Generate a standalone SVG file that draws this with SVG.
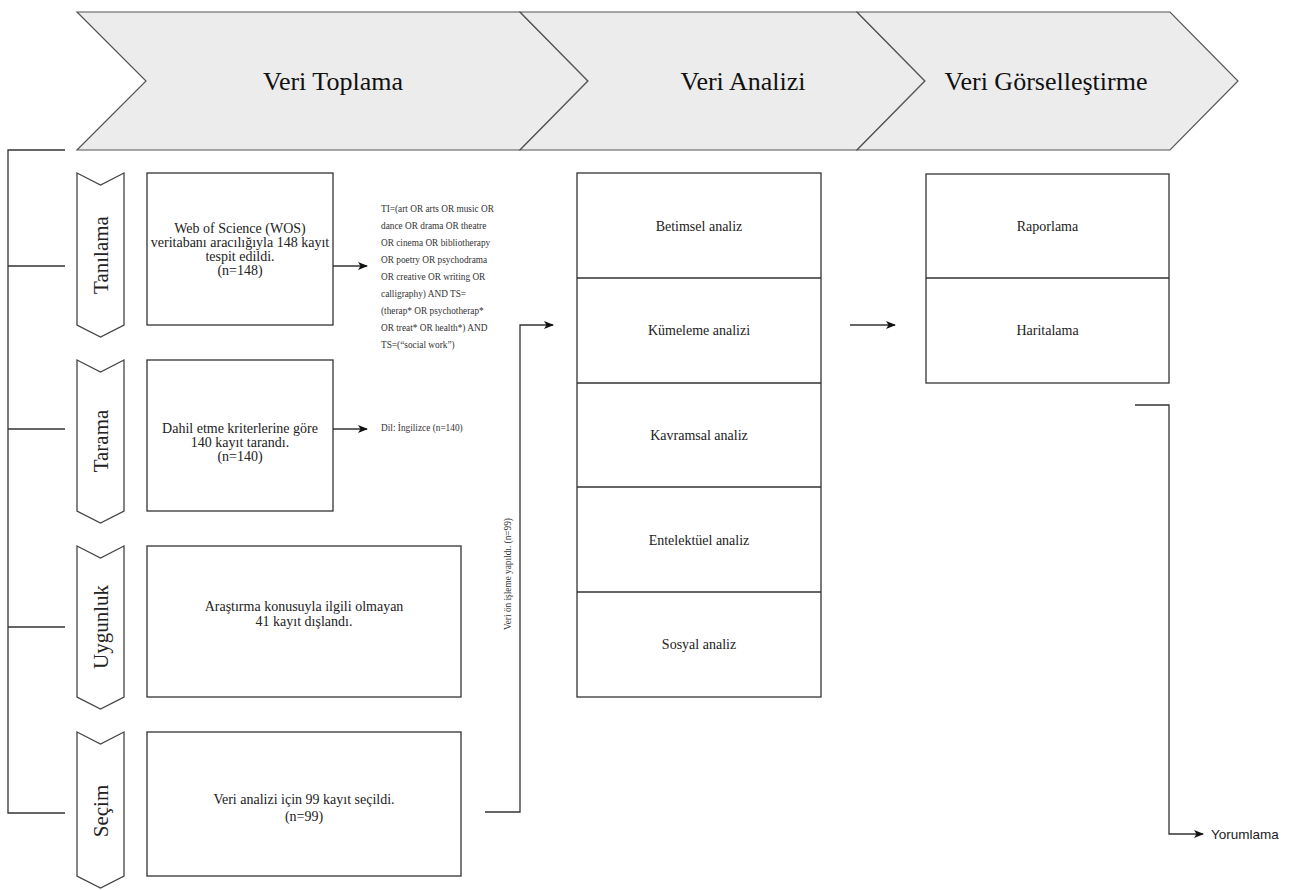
<svg xmlns="http://www.w3.org/2000/svg" width="1289" height="890" viewBox="0 0 1289 890">
<defs>
<style>
.phase{fill:#ececec;stroke:#555;stroke-width:1.2}
.ph-t{font-family:"Liberation Serif","Times New Roman",serif;font-size:26px;fill:#111;text-anchor:middle;dominant-baseline:central}
.side{fill:#fff;stroke:#444;stroke-width:1.3}
.side-t{font-family:"Liberation Serif","Times New Roman",serif;font-size:21px;fill:#222;text-anchor:middle;dominant-baseline:central}
.box{fill:#fff;stroke:#333;stroke-width:1.3}
.bt{font-family:"Liberation Serif","Times New Roman",serif;font-size:14px;fill:#222;text-anchor:middle;dominant-baseline:central}
.small{font-family:"Liberation Serif","Times New Roman",serif;font-size:9.3px;fill:#333;dominant-baseline:central}
.ln{fill:none;stroke:#333;stroke-width:1.3}
.sans{font-family:"Liberation Sans",Arial,sans-serif;font-size:13.5px;fill:#222;dominant-baseline:central}
</style>
<marker id="ah" markerWidth="10" markerHeight="8" refX="9" refY="4" orient="auto" markerUnits="userSpaceOnUse">
<path d="M0,0 L10,4 L0,8 L2.5,4 Z" fill="#111"/>
</marker>
</defs>

<g id="phases">
<g id="phase-toplama">
<path class="phase" d="M77,12 L520,12 L588,81 L520,150 L77,150 L146,81 Z"/>
<text class="ph-t" x="333" y="81">Veri Toplama</text>
</g>
<g id="phase-analizi">
<path class="phase" d="M520,12 L857,12 L925,81 L857,150 L520,150 L588,81 Z"/>
<text class="ph-t" x="743" y="81">Veri Analizi</text>
</g>
<g id="phase-gorsel">
<path class="phase" d="M857,12 L1170,12 L1238,81 L1170,150 L857,150 L925,81 Z"/>
<text class="ph-t" x="1046" y="81">Veri Görselleştirme</text>
</g>
</g>

<g id="bracket">
<path class="ln" d="M65,150 L8,150 L8,813 L65,813 M8,266 L65,266 M8,429 L65,429 M8,627 L65,627"/>
</g>

<g id="stage-tanilama">
<path class="side" d="M77,173 L100.5,185 L124,173 L124,325 L100.5,337 L77,325 Z"/>
<text class="side-t" transform="translate(100.5,255) rotate(-90)">Tanılama</text>
</g>
<g id="stage-tarama">
<path class="side" d="M77,360 L100.5,372 L124,360 L124,511 L100.5,523 L77,511 Z"/>
<text class="side-t" transform="translate(100.5,441) rotate(-90)">Tarama</text>
</g>
<g id="stage-uygunluk">
<path class="side" d="M77,546 L100.5,558 L124,546 L124,697 L100.5,709 L77,697 Z"/>
<text class="side-t" transform="translate(100.5,627) rotate(-90)">Uygunluk</text>
</g>
<g id="stage-secim">
<path class="side" d="M77,732 L100.5,744 L124,732 L124,876 L100.5,888 L77,876 Z"/>
<text class="side-t" transform="translate(100.5,811) rotate(-90)">Seçim</text>
</g>

<g id="box-tanilama">
<rect class="box" x="147" y="173" width="186" height="152"/>
<text class="bt" x="240" y="228">Web of Science (WOS)</text>
<text class="bt" x="240" y="242">veritabanı aracılığıyla 148 kayıt</text>
<text class="bt" x="240" y="256">tespit edildi.</text>
<text class="bt" x="240" y="270">(n=148)</text>
</g>
<g id="box-tarama">
<rect class="box" x="147" y="360" width="186" height="151"/>
<text class="bt" x="240" y="428">Dahil etme kriterlerine göre</text>
<text class="bt" x="240" y="442">140 kayıt tarandı.</text>
<text class="bt" x="240" y="456">(n=140)</text>
</g>
<g id="box-uygunluk">
<rect class="box" x="147" y="546" width="314" height="151"/>
<text class="bt" x="304" y="606">Araştırma konusuyla ilgili olmayan</text>
<text class="bt" x="304" y="621">41 kayıt dışlandı.</text>
</g>
<g id="box-secim">
<rect class="box" x="147" y="732" width="314" height="144"/>
<text class="bt" x="304" y="799">Veri analizi için 99 kayıt seçildi.</text>
<text class="bt" x="304" y="816">(n=99)</text>
</g>

<g id="query-text">
<text class="small" x="381" y="209">TI=(art OR arts OR music OR</text>
<text class="small" x="381" y="226">dance OR drama OR theatre</text>
<text class="small" x="381" y="243">OR cinema OR bibliotherapy</text>
<text class="small" x="381" y="260">OR poetry OR psychodrama</text>
<text class="small" x="381" y="277">OR creative OR writing OR</text>
<text class="small" x="381" y="294">calligraphy) AND TS=</text>
<text class="small" x="381" y="311">(therap* OR psychotherap*</text>
<text class="small" x="381" y="328">OR treat* OR health*) AND</text>
<text class="small" x="381" y="345">TS=(“social work”)</text>
</g>
<g id="lang-text">
<text class="small" x="381" y="428">Dil: İngilizce (n=140)</text>
</g>

<g id="analysis">
<rect class="box" x="577" y="173" width="244" height="524"/>
<path class="ln" d="M577,278 L821,278 M577,383 L821,383 M577,487 L821,487 M577,592 L821,592"/>
<text class="bt" x="699" y="226">Betimsel analiz</text>
<text class="bt" x="699" y="330">Kümeleme analizi</text>
<text class="bt" x="699" y="435">Kavramsal analiz</text>
<text class="bt" x="699" y="540">Entelektüel analiz</text>
<text class="bt" x="699" y="644">Sosyal analiz</text>
</g>

<g id="visual">
<rect class="box" x="926" y="174" width="243" height="209"/>
<path class="ln" d="M926,278 L1169,278"/>
<text class="bt" x="1047.5" y="226">Raporlama</text>
<text class="bt" x="1047.5" y="330">Haritalama</text>
</g>

<g id="yorumlama">
<text class="sans" x="1211" y="834">Yorumlama</text>
</g>

<g id="connectors">
<path class="ln" d="M333,266 L367,266" marker-end="url(#ah)"/>
<path class="ln" d="M333,429 L367,429" marker-end="url(#ah)"/>
<path class="ln" d="M485,812 L520,812 L520,325 L553,325" marker-end="url(#ah)"/>
<path class="ln" d="M850,325 L895,325" marker-end="url(#ah)"/>
<path class="ln" d="M1135,405 L1169,405 L1169,834 L1203,834" marker-end="url(#ah)"/>
<text class="small" transform="translate(508,574) rotate(-90)" text-anchor="middle">Veri ön işleme yapıldı. (n=99)</text>
</g>
</svg>
